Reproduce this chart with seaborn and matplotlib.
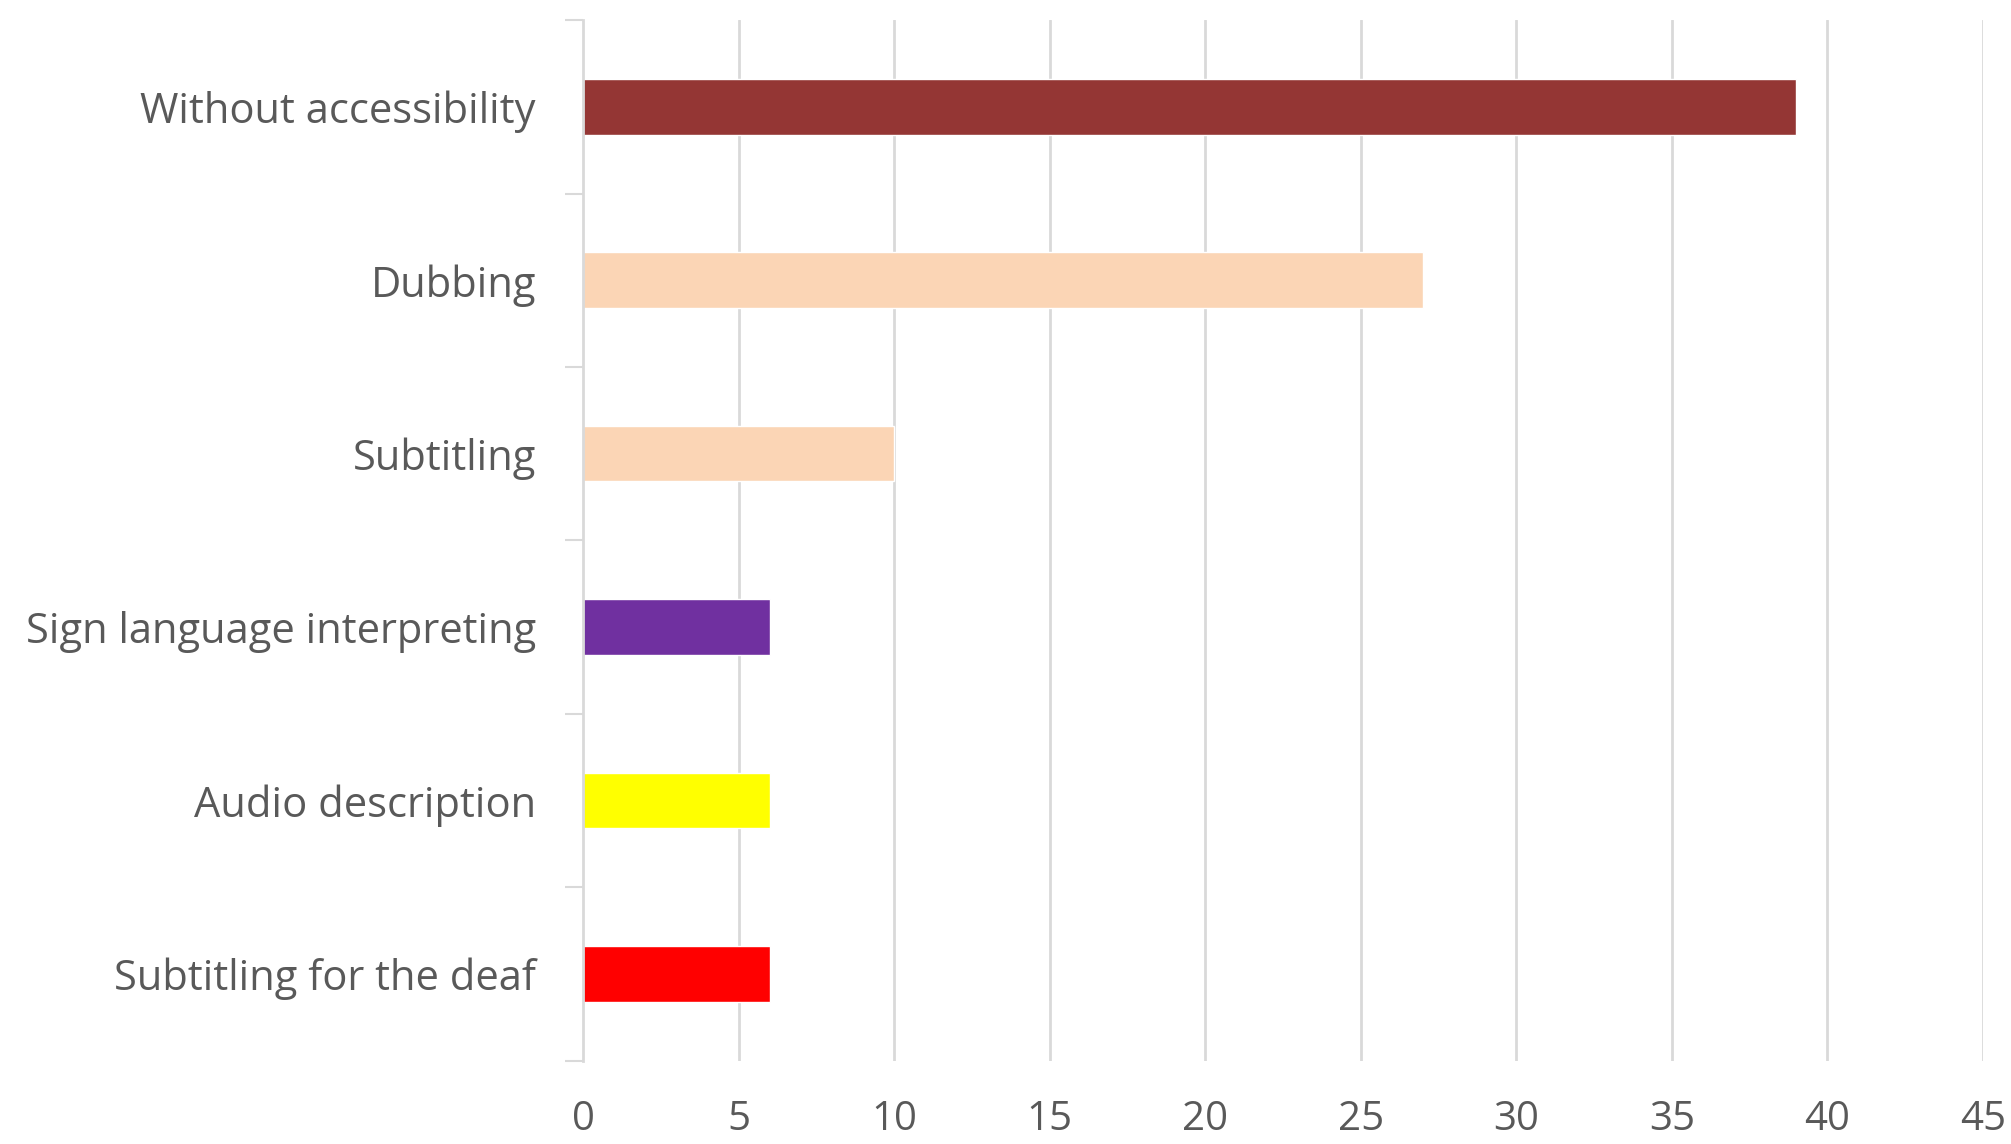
import matplotlib
matplotlib.use("Agg")
import matplotlib.pyplot as plt
import seaborn as sns
import pandas as pd
import numpy as np

categories = ["Without accessibility", "Dubbing", "Subtitling",
              "Sign language interpreting", "Audio description",
              "Subtitling for the deaf"]
values = [39, 27, 10, 6, 6, 6]
colors = ["#943634", "#FBD5B5", "#FBD5B5", "#7030A0", "#FFFF00", "#FF0000"]
xticks = [0, 5, 10, 15, 20, 25, 30, 35, 40, 45]

sns.set_theme(style="white")
plt.rcParams['font.family'] = ['Open Sans', 'DejaVu Sans']

df = pd.DataFrame({"category": categories, "value": values})

fig = plt.figure(figsize=(20.11, 11.44), dpi=100)
ax = fig.add_axes([0.290, 0.0726, 0.696, 0.9099])

sns.barplot(data=df, x="value", y="category", hue="category",
            palette=dict(zip(categories, colors)), orient="h",
            width=0.32, legend=False, ax=ax, saturation=1)

ax.set_xlim(0, 45)
ax.set_ylim(len(categories) - 0.5, -0.5)
ax.set_xticks(xticks)
ax.set_xticklabels([str(t) for t in xticks])
ax.set_xlabel("")
ax.set_ylabel("")

grid_c = "#D9D9D9"
for t in xticks[1:]:
    ax.axvline(t, color=grid_c, lw=2, zorder=0)

for s in ["top", "right", "bottom"]:
    ax.spines[s].set_visible(False)
ax.spines["left"].set_color(grid_c)
ax.spines["left"].set_linewidth(2)

ax.set_yticks(np.arange(len(categories) + 1) - 0.5, minor=True)
ax.tick_params(axis="y", which="minor", length=13, width=1.5, color=grid_c, left=True)
ax.tick_params(axis="y", which="major", length=0, pad=34, labelsize=30, labelcolor="#595959")
ax.tick_params(axis="x", which="both", length=0, pad=28, labelsize=29, labelcolor="#595959")

fig.savefig("out.png", dpi=100)
